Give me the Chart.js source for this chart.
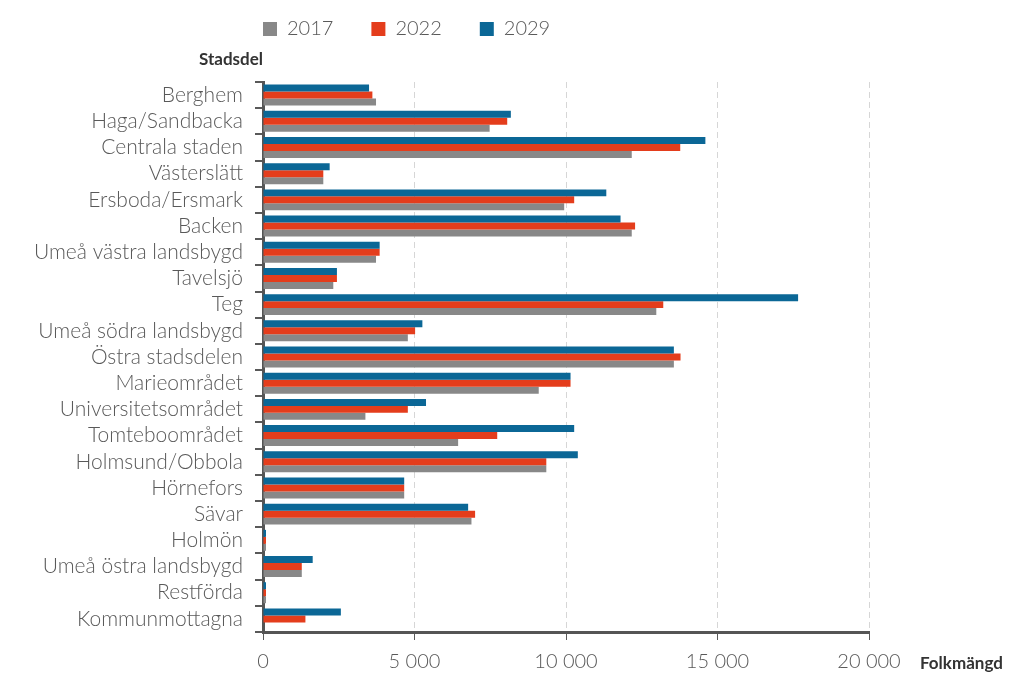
<!DOCTYPE html>
<html>
<head>
<meta charset="utf-8">
<script src="https://cdn.jsdelivr.net/npm/chart.js@4.4.1/dist/chart.umd.min.js"></script>
<style>
  html, body { margin: 0; padding: 0; background: #fff; }
  #wrap { width: 1024px; height: 686px; position: relative; }
</style>
</head>
<body>
<div id="wrap"><canvas id="myChart"></canvas></div>
<script>
const categories = [
  "Berghem", "Haga/Sandbacka", "Centrala staden", "Västerslätt", "Ersboda/Ersmark",
  "Backen", "Umeå västra landsbygd", "Tavelsjö", "Teg", "Umeå södra landsbygd",
  "Östra stadsdelen", "Marieområdet", "Universitetsområdet", "Tomteboområdet",
  "Holmsund/Obbola", "Hörnefors", "Sävar", "Holmön", "Umeå östra landsbygd",
  "Restförda", "Kommunmottagna"
];
const values2017 = [3730, 7480, 12170, 1990, 9940, 12170, 3730, 2320, 12980, 4780, 13560, 9100, 3380, 6440, 9350, 4660, 6880, 100, 1280, 100, 0];
const values2022 = [3610, 8060, 13770, 1990, 10270, 12280, 3850, 2440, 13210, 5020, 13780, 10150, 4780, 7730, 9350, 4660, 7000, 100, 1280, 100, 1400];
const values2029 = [3500, 8180, 14600, 2200, 11330, 11800, 3850, 2440, 17660, 5260, 13560, 10150, 5380, 10270, 10390, 4660, 6770, 100, 1640, 100, 2570];
const xTicks = [0, 5000, 10000, 15000, 20000];

const FONT = "Lato, 'Open Sans', sans-serif";
const GREY_TEXT = "#595959";

// axis captions + legend shift
const extras = {
  id: "extras",
  beforeDraw(chart) {
    const lg = chart.legend;
    const w = lg.right - lg.left;
    const h = lg.bottom - lg.top;
    lg.left = 225;
    lg.right = 225 + w;
    lg.top = -19;
    lg.bottom = -19 + h;
  },
  afterDraw(chart) {
    const c = chart.ctx;
    c.save();
    c.fillStyle = "#333";
    c.font = "bold 17px " + FONT;
    c.textBaseline = "middle";
    c.textAlign = "right";
    c.fillText("Stadsdel", 263, 60);
    c.textAlign = "left";
    c.fillText("Folkmängd", 920, 664);
    c.restore();
  }
};

const ctx = document.getElementById("myChart").getContext("2d");
const myChart = new Chart(ctx, {
  type: "bar",
  data: {
    labels: categories,
    datasets: [
      { label: "2029", data: values2029, backgroundColor: "#0b6796" },
      { label: "2022", data: values2022, backgroundColor: "#e43d1c" },
      { label: "2017", data: values2017, backgroundColor: "#888888" }
    ]
  },
  options: {
    indexAxis: "y",
    responsive: true,
    maintainAspectRatio: false,
    animation: false,
    datasets: {
      bar: { categoryPercentage: 0.8, barPercentage: 1.0 }
    },
    layout: { padding: { left: 0, right: 155, top: 14, bottom: 0 } },
    plugins: {
      tooltip: { enabled: false },
      legend: {
        position: "top",
        align: "start",
        reverse: true,
        labels: {
          boxWidth: 14,
          boxHeight: 14,
          padding: 38,
          color: GREY_TEXT,
          font: { family: FONT, size: 20, weight: 300 }
        }
      }
    },
    scales: {
      x: {
        min: 0,
        max: 20000,
        afterBuildTicks: (scale) => { scale.ticks = xTicks.map(v => ({ value: v })); },
        afterFit: (scale) => { scale.height = 54; },
        ticks: {
          color: GREY_TEXT,
          padding: 10,
          font: { family: FONT, size: 20, weight: 300 },
          callback: (v) => String(v).replace(/\B(?=(\d{3})+(?!\d))/g, " ")
        },
        grid: {
          color: "#d6d6d6",
          lineWidth: 1,
          tickLength: 8,
          tickColor: GREY_TEXT,
          tickWidth: 1
        },
        border: { display: true, color: "#555", width: 3, dash: [6, 4] }
      },
      y: {
        afterFit: (scale) => { scale.width = 263; },
        ticks: {
          color: GREY_TEXT,
          padding: 12,
          autoSkip: false,
          font: { family: FONT, size: 21, weight: 300 }
        },
        grid: {
          offset: true,
          drawOnChartArea: false,
          tickLength: 8,
          color: GREY_TEXT,
          lineWidth: 2
        },
        border: { display: true, color: "#555", width: 3 }
      }
    }
  },
  plugins: [extras]
});
</script>
</body>
</html>
